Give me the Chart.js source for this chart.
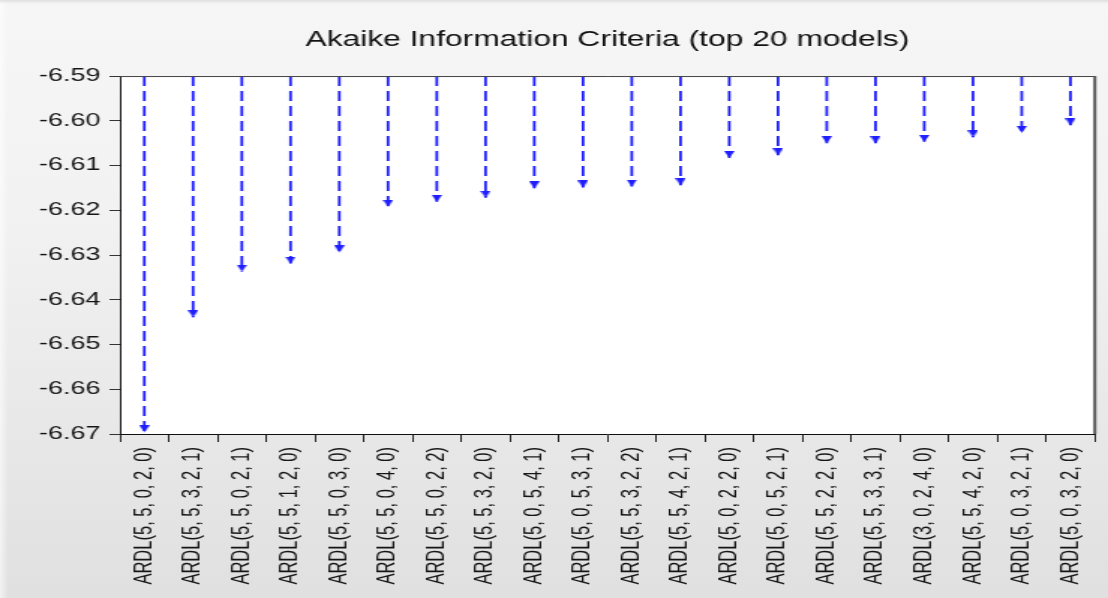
<!DOCTYPE html>
<html>
<head>
<meta charset="utf-8">
<title>Akaike Information Criteria (top 20 models)</title>
<script src="https://cdn.jsdelivr.net/npm/chart.js@4/dist/chart.umd.min.js"></script>
<style>
  html, body { margin: 0; padding: 0; overflow: hidden; }
  body {
    width: 1108px; height: 598px;
    background: linear-gradient(to bottom, #f6f6f6 0%, #f2f2f2 35%, #e0e0e0 100%);
    position: relative;
  }
  body::before {
    content: ""; position: absolute; left: 0; top: 0; bottom: 0; width: 8px;
    background: linear-gradient(to right, rgba(255,255,255,0.6), rgba(255,255,255,0));
  }
  body::after {
    content: ""; position: absolute; left: 0; right: 0; top: 0; height: 4px;
    background: linear-gradient(to bottom, rgba(200,200,200,0.5), rgba(255,255,255,0));
  }
  #c { display: block; position: relative; z-index: 1; }
</style>
</head>
<body>
<!-- drawn at 739 px wide and widened to 1108 px on screen -->
<canvas id="c" width="739" height="598" style="width:1108px;height:598px"></canvas>
<script>
// Model specifications, ordered by criterion value
const modelLabels = [
  "ARDL(5, 5, 0, 2, 0)", "ARDL(5, 5, 3, 2, 1)", "ARDL(5, 5, 0, 2, 1)", "ARDL(5, 5, 1, 2, 0)",
  "ARDL(5, 5, 0, 3, 0)", "ARDL(5, 5, 0, 4, 0)", "ARDL(5, 5, 0, 2, 2)", "ARDL(5, 5, 3, 2, 0)",
  "ARDL(5, 0, 5, 4, 1)", "ARDL(5, 0, 5, 3, 1)", "ARDL(5, 5, 3, 2, 2)", "ARDL(5, 5, 4, 2, 1)",
  "ARDL(5, 0, 2, 2, 0)", "ARDL(5, 0, 5, 2, 1)", "ARDL(5, 5, 2, 2, 0)", "ARDL(5, 5, 3, 3, 1)",
  "ARDL(3, 0, 2, 4, 0)", "ARDL(5, 5, 4, 2, 0)", "ARDL(5, 0, 3, 2, 1)", "ARDL(5, 0, 3, 2, 0)"
];

// Akaike information criterion per model
const aicValues = [
  -6.6696, -6.6439, -6.6337, -6.6319,
  -6.6294, -6.6192, -6.6181, -6.6172,
  -6.6151, -6.6149, -6.6147, -6.6144,
  -6.6083, -6.6077, -6.6050, -6.6050,
  -6.6047, -6.6037, -6.6027, -6.6010
];

// Value axis range and tick spacing
const axisMin = -6.67;
const axisMax = -6.59;
const axisStep = 0.01;

const BLUE = "#1f1fff";
const FONT = "'Liberation Sans', Arial, Helvetica, sans-serif";

// Stems: one vertical segment per model, from the top of the axis down to its value
const stemPoints = [];
modelLabels.forEach((m, i) => {
  stemPoints.push({ x: m, y: axisMax });
  stemPoints.push({ x: m, y: aicValues[i] });
  stemPoints.push({ x: m, y: null });
});

// Arrowheads sit at each model's value
const headPoints = modelLabels.map((m, i) => ({ x: m, y: aicValues[i] }));

// Down-pointing arrowhead whose tip lies at the image centre
function makeArrowHead(w, h, color) {
  const cv = document.createElement("canvas");
  cv.width = w; cv.height = h * 2;
  const g = cv.getContext("2d");
  g.fillStyle = color;
  g.beginPath();
  g.moveTo(0, 0);
  g.lineTo(w, 0);
  g.lineTo(w / 2, h);
  g.closePath();
  g.fill();
  return cv;
}
const arrowHead = makeArrowHead(7, 7, BLUE);

// White plot background and the top/right frame lines
const plotFrame = {
  id: "plotFrame",
  beforeDraw(chart) {
    const { ctx, chartArea: a } = chart;
    ctx.save();
    ctx.fillStyle = "#ffffff";
    ctx.fillRect(a.left, a.top, a.right - a.left, a.bottom - a.top);
    ctx.restore();
  },
  afterDraw(chart) {
    const { ctx, chartArea: a } = chart;
    ctx.save();
    ctx.strokeStyle = "#444";
    ctx.lineWidth = 1;
    ctx.beginPath();
    ctx.moveTo(a.left, a.top + 0.5);
    ctx.lineTo(a.right, a.top + 0.5);
    ctx.stroke();
    ctx.strokeStyle = "#555";
    ctx.lineWidth = 2;
    ctx.beginPath();
    ctx.moveTo(a.right, a.top);
    ctx.lineTo(a.right, a.bottom);
    ctx.stroke();
    ctx.restore();
  }
};

new Chart(document.getElementById("c"), {
  type: "line",
  data: {
    labels: modelLabels,
    datasets: [
      {
        data: stemPoints,
        borderColor: BLUE,
        borderWidth: 1.8,
        borderDash: [10, 5],
        pointRadius: 0,
        spanGaps: false,
        fill: false
      },
      {
        data: headPoints,
        showLine: false,
        pointStyle: arrowHead,
        pointRadius: 4,
        pointHoverRadius: 4
      }
    ]
  },
  options: {
    responsive: false,
    animation: false,
    events: [],
    layout: { padding: { left: 0, right: 7, top: 0, bottom: 0 } },
    plugins: {
      legend: { display: false },
      tooltip: { enabled: false },
      title: {
        display: true,
        fullSize: false,
        text: "Akaike Information Criteria (top 20 models)",
        color: "#111",
        font: { family: FONT, size: 21.2, weight: "normal", lineHeight: 1.2 },
        padding: { top: 27, bottom: 23.6 }
      }
    },
    scales: {
      x: {
        type: "category",
        offset: true,
        grid: {
          display: true,
          drawOnChartArea: false,
          drawTicks: true,
          tickLength: 8,
          offset: true,
          color: "#222",
          lineWidth: 1
        },
        border: { display: true, color: "#111", width: 1 },
        ticks: {
          autoSkip: false,
          minRotation: 90,
          maxRotation: 90,
          padding: 5,
          color: "#151515",
          font: { family: FONT, size: 16.5 }
        },
        afterFit(scale) { scale.height = 164; }
      },
      y: {
        type: "linear",
        min: axisMin,
        max: axisMax,
        grid: {
          display: true,
          drawOnChartArea: false,
          drawTicks: true,
          tickLength: 7,
          color: "#333",
          lineWidth: 1
        },
        border: { display: true, color: "#111", width: 1 },
        ticks: {
          stepSize: axisStep,
          padding: 6,
          color: "#151515",
          font: { family: FONT, size: 18 },
          callback: (v) => Number(v).toFixed(2)
        },
        afterFit(scale) { scale.width = 80; }
      }
    }
  },
  plugins: [plotFrame]
});
</script>
</body>
</html>
